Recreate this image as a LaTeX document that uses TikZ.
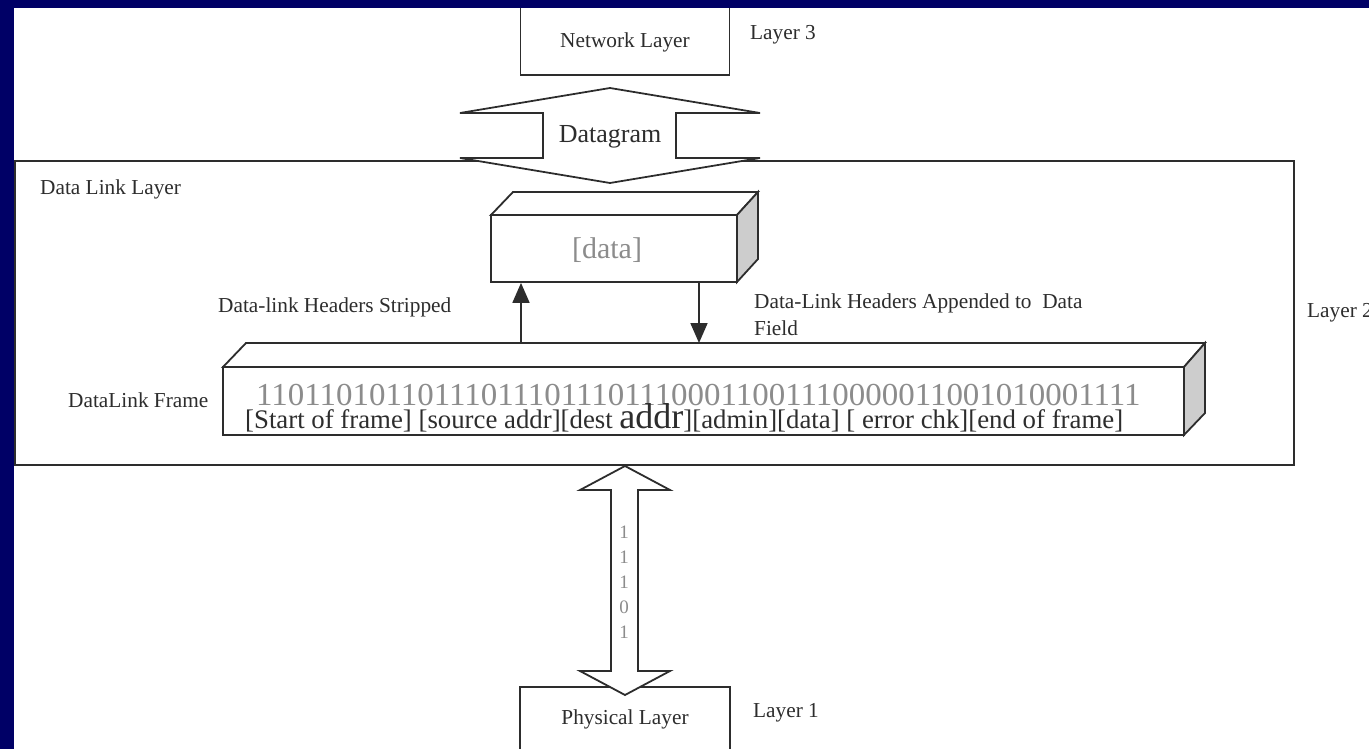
\documentclass[tikz,border=0pt]{standalone}
\usepackage{fontspec}
\setmainfont{Liberation Serif}
\usetikzlibrary{positioning,arrows.meta}

\definecolor{slidenavy}{RGB}{0,0,102}
\definecolor{ink}{RGB}{45,45,45}
\definecolor{bitgray}{RGB}{140,140,140}
\definecolor{sidegray}{RGB}{205,205,205}

\tikzset{
  lbl/.style={text=ink, font=\fontsize{21.3}{27}\selectfont, inner sep=0pt},
  layerbox/.style={draw=ink, line width=1.8pt, fill=white, inner sep=0pt},
  fatarrow/.style={draw=ink, line width=1.8pt, fill=white, line join=miter},
  sig/.style={draw=ink, line width=1.8pt, -{Triangle[length=20pt,width=17pt]}}
}

\begin{document}
\begin{tikzpicture}[x=1pt,y=-1pt]
\useasboundingbox (0,0) rectangle (1369,749);
\fill[white] (0,0) rectangle (1369,749);

% layer 3
\node[layerbox, minimum width=209pt, minimum height=70pt] (net) at (625,40) {};
\node[lbl] (nettxt) at (625,42) {Network Layer};
\node[lbl, anchor=west] (l3) at (750,35) {Layer 3};

% data link layer frame
\node[draw=ink, line width=2.6pt, minimum width=1279pt, minimum height=304pt, inner sep=0pt]
  (dll) at (654.5,313) {};
\node[lbl, anchor=west] (dlltxt) at (40,189) {Data Link Layer};
\node[lbl, anchor=west] (l2) at (1307,313) {Layer 2};

% datagram arrow
\draw[fatarrow] (610,88) -- (760,113) -- (676,113) -- (676,158) -- (760,158)
  -- (610,183) -- (460,158) -- (543,158) -- (543,113) -- (460,113) -- cycle;
\node[text=ink, font=\fontsize{26}{30}\selectfont] (dg) at (610,137) {Datagram};

% data block
\draw[fatarrow, fill=white] (491,215) -- (513,192) -- (758,192) -- (737,215) -- cycle;
\draw[fatarrow, fill=sidegray] (737,215) -- (758,192) -- (758,259) -- (737,282) -- cycle;
\node[layerbox, minimum width=246pt, minimum height=67pt] (data) at (614,248.5) {};
\node[text=bitgray, font=\fontsize{30}{30}\selectfont, inner sep=0pt] (datatxt) at (607,250) {[data]};

% frame block
\draw[fatarrow] (223,367) -- (246,343) -- (1205,343) -- (1184,367) -- cycle;
\draw[fatarrow, fill=sidegray] (1184,367) -- (1205,343) -- (1205,413) -- (1184,435) -- cycle;
\node[layerbox, minimum width=961pt, minimum height=68pt] (frame) at (703.5,401) {};
\node[lbl, anchor=west] (frametxt) at (68,400) {DataLink Frame};
\node[text=bitgray, font=\fontsize{32}{32}\selectfont, inner sep=0pt, anchor=west, xscale=1.03] (bits)
  at (256,395) {1101101011011101110111011100011001110000011001010001111};
\node[text=ink, font=\fontsize{26.8}{26.8}\selectfont, inner sep=0pt, anchor=west] (fields)
  at (245,418) {[Start of frame] [source addr][dest {\fontsize{36}{36}\selectfont addr}][admin][data] [ error chk][end of frame]};

% headers stripped / appended
\coordinate (upfoot) at (521,343);
\coordinate (dnfoot) at (699,343);
\draw[sig] (upfoot) -- (upfoot |- data.south);
\draw[sig] (dnfoot |- data.south) -- (dnfoot);
\node[lbl, anchor=west] (strip) at (218,307) {Data-link Headers Stripped};
\node[lbl, anchor=north west, align=left] (append) at (754,294)
  {Data-Link Headers Appended to\ \ Data\\Field};

% layer 1
\node[layerbox, minimum width=210pt, minimum height=66pt] (phy) at (625,720) {};
\node[lbl] (phytxt) at (625,719) {Physical Layer};
\node[lbl, anchor=west] (l1) at (753,713) {Layer 1};

% bit stream arrow
\draw[fatarrow] (625,466) -- (670,490) -- (638,490) -- (638,671) -- (670,671)
  -- (625,695) -- (580,671) -- (611,671) -- (611,490) -- (580,490) -- cycle;
\node[text=bitgray, font=\fontsize{19}{25}\selectfont, align=center, inner sep=0pt]
  (bitstack) at (624,582) {1\\1\\1\\0\\1};

% slide border
\fill[slidenavy] (0,0) rectangle (1369,8);
\fill[slidenavy] (0,0) rectangle (14,749);
\end{tikzpicture}
\end{document}
